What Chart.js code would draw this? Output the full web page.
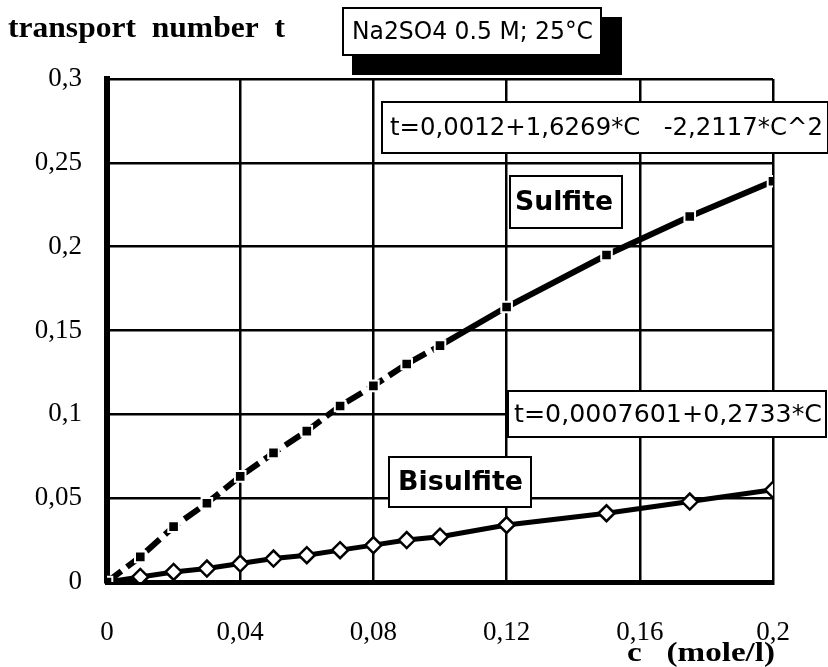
<!DOCTYPE html>
<html>
<head>
<meta charset="utf-8">
<script src="https://cdn.jsdelivr.net/npm/chart.js@4.4.1/dist/chart.umd.min.js"></script>
<style>
  html, body { margin: 0; padding: 0; background: #fff; }
  #wrap { width: 828px; height: 667px; }
</style>
</head>
<body>
<div id="wrap"><canvas id="grafico" width="828" height="667"></canvas></div>
<script>
// concentration c (mole/l)
var concentracoes = [0, 0.01, 0.02, 0.03, 0.04, 0.05, 0.06, 0.07, 0.08, 0.09, 0.1, 0.12, 0.15, 0.175, 0.2];
// transport number t
var sulfito = [0, 0.015, 0.033, 0.047, 0.063, 0.077, 0.090, 0.105, 0.117, 0.130, 0.141, 0.164, 0.195, 0.218, 0.239];
var bissulfito = [0, 0.003, 0.006, 0.008, 0.011, 0.014, 0.016, 0.019, 0.022, 0.025, 0.027, 0.034, 0.041, 0.048, 0.055];
var ticksX = [0, 0.04, 0.08, 0.12, 0.16, 0.2];
var ticksY = [0, 0.05, 0.1, 0.15, 0.2, 0.25, 0.3];

function virgula(v) {
  return String(+v.toFixed(3)).replace(".", ",");
}

function pontos(ys) {
  return concentracoes.map(function (c, i) { return { x: c, y: ys[i] }; });
}

// escreve o texto esticado/encolhido na horizontal ate a largura pedida
function textoAjustado(ctx, texto, x, y, largura, fonte) {
  ctx.save();
  ctx.font = fonte;
  ctx.fillStyle = "#000";
  ctx.textAlign = "left";
  var w = ctx.measureText(texto).width;
  ctx.translate(x, y);
  ctx.scale(largura / w, 1);
  ctx.fillText(texto, 0, 0);
  ctx.restore();
}

function caixa(ctx, x, y, w, h, texto, tx, largura, fonte) {
  ctx.save();
  ctx.fillStyle = "#fff";
  ctx.fillRect(x, y, w, h);
  ctx.strokeStyle = "#000";
  ctx.lineWidth = 2;
  ctx.strokeRect(x, y, w, h);
  ctx.textBaseline = "middle";
  textoAjustado(ctx, texto, tx, y + h / 2 + 1, largura, fonte);
  ctx.restore();
}

var anotacoes = {
  id: "anotacoes",
  afterDraw: function (chart) {
    var ctx = chart.ctx;
    ctx.save();
    ctx.textBaseline = "alphabetic";
    textoAjustado(ctx, "transport  number  t", 8, 37, 277, "bold 30px 'Liberation Serif'");
    textoAjustado(ctx, "c   (mole/l)", 627, 661, 148, "bold 27px 'Liberation Serif'");
    // sombra da caixa de condicoes
    ctx.fillStyle = "#000";
    ctx.fillRect(352, 17, 270, 58);
    ctx.restore();
    caixa(ctx, 343, 8, 258, 47, "Na2SO4 0.5 M; 25°C", 352, 241, "24px 'DejaVu Sans'");
    caixa(ctx, 382, 102, 446, 51, "t=0,0012+1,6269*C   -2,2117*C^2", 390, 433, "25px 'DejaVu Sans'");
    caixa(ctx, 510, 176, 112, 52, "Sulfite", 515, 98, "bold 26px 'DejaVu Sans'");
    caixa(ctx, 508, 391, 318, 46, "t=0,0007601+0,2733*C", 514, 308, "25px 'DejaVu Sans'");
    caixa(ctx, 389, 457, 142, 50, "Bisulfite", 398, 125, "bold 26px 'DejaVu Sans'");
  }
};

const ctx = document.getElementById("grafico").getContext("2d");

const grafico = new Chart(ctx, {
  type: "line",
  data: {
    datasets: [
      {
        label: "Sulfite",
        data: pontos(sulfito),
        borderColor: "#000",
        borderWidth: 6,
        pointStyle: "rect",
        pointRadius: 7.5,
        pointBackgroundColor: "#000",
        pointBorderColor: "#fff",
        pointBorderWidth: 2,
        segment: {
          borderDash: function (s) { return s.p0.parsed.x < 0.1 ? [18, 7] : undefined; }
        }
      },
      {
        label: "Bisulfite",
        data: pontos(bissulfito),
        borderColor: "#000",
        borderWidth: 5,
        pointStyle: "rectRot",
        pointRadius: 8,
        pointBackgroundColor: "#fff",
        pointBorderColor: "#000",
        pointBorderWidth: 2.5
      }
    ]
  },
  options: {
    responsive: false,
    animation: false,
    layout: { padding: { top: 79, right: 55, left: 0, bottom: 0 } },
    plugins: { legend: { display: false }, tooltip: { enabled: false } },
    scales: {
      x: {
        type: "linear",
        min: 0,
        max: 0.2,
        afterFit: function (s) { s.height = 85; },
        afterBuildTicks: function (s) { s.ticks = ticksX.map(function (v) { return { value: v }; }); },
        grid: { color: "#000", lineWidth: 2.5, drawTicks: false },
        border: { color: "#000", width: 5 },
        ticks: {
          color: "#000",
          padding: 35,
          maxRotation: 0,
          autoSkip: false,
          font: { family: "'Liberation Serif'", size: 27 },
          callback: function (v) { return virgula(v); }
        }
      },
      y: {
        min: 0,
        max: 0.3,
        afterFit: function (s) { s.width = 107; },
        afterBuildTicks: function (s) { s.ticks = ticksY.map(function (v) { return { value: v }; }); },
        grid: { color: "#000", lineWidth: 2.5, drawTicks: false },
        border: { color: "#000", width: 6 },
        ticks: {
          color: "#000",
          padding: 25,
          font: { family: "'Liberation Serif'", size: 27 },
          callback: function (v) { return virgula(v); }
        }
      }
    }
  },
  plugins: [anotacoes]
});
</script>
</body>
</html>
